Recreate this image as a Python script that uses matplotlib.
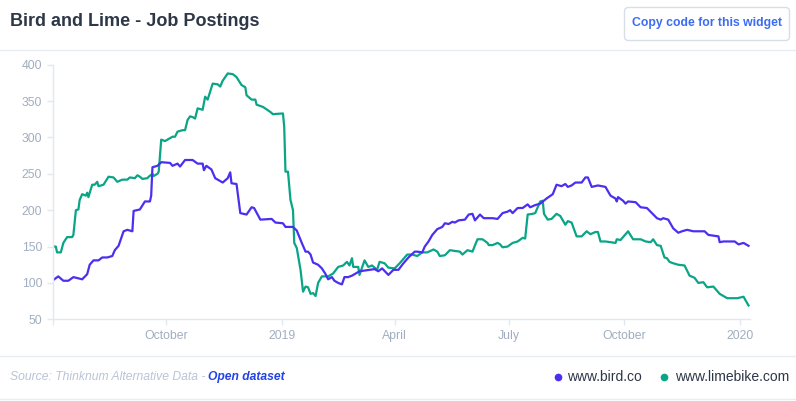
import pandas as pd
import numpy as np
import matplotlib
matplotlib.use('Agg')
import matplotlib.pyplot as plt
import matplotlib.dates as mdates
from matplotlib.patches import FancyBboxPatch
from matplotlib.lines import Line2D
from matplotlib.transforms import IdentityTransform

# job postings, x = days since 2018-07-03
start = pd.Timestamp('2018-07-03')

bird_day = [0, 4, 8, 12, 16, 23, 27, 29, 32, 36, 39, 43, 47, 49, 52, 56, 59, 63, 64, 69,
            73, 77, 78, 79, 83, 86, 93, 95, 99, 101, 105, 111, 115, 119, 120, 122, 126, 129, 135, 139,
            141, 142, 146, 149, 154, 158, 160, 165, 174, 177, 183, 185, 191, 194, 198, 201, 203, 205, 207, 211,
            214, 217, 219, 222, 224, 227, 230, 232, 235, 238, 240, 244, 248, 252, 256, 259, 262, 267, 271, 275,
            279, 283, 288, 290, 294, 296, 299, 302, 306, 310, 312, 315, 318, 320, 323, 328, 331, 334, 336, 340,
            343, 350, 354, 358, 362, 364, 366, 370, 374, 378, 380, 384, 388, 393, 398, 401, 405, 408, 410, 413,
            416, 421, 424, 426, 429, 434, 440, 444, 448, 449, 450, 454, 456, 458, 464, 468, 473, 477, 481, 484,
            486, 490, 494, 498, 501, 505, 510, 519, 522, 530, 531, 534, 543, 546, 550, 554]
bird_val = [104, 109, 103, 103, 108, 105, 112, 125, 131, 131, 135, 135, 137, 145, 151, 171, 173, 171, 199, 201,
            212, 212, 220, 259, 261, 266, 265, 261, 264, 260, 269, 269, 264, 264, 255, 261, 256, 244, 238, 244,
            252, 237, 236, 196, 194, 204, 203, 187, 188, 183, 182, 177, 177, 172, 155, 143, 143, 139, 128, 125,
            120, 112, 105, 108, 103, 100, 98, 108, 108, 110, 112, 116, 117, 118, 119, 116, 120, 111, 118, 118,
            127, 135, 143, 143, 142, 150, 157, 166, 174, 177, 182, 181, 184, 183, 186, 187, 194, 195, 186, 194,
            189, 189, 188, 196, 198, 200, 196, 203, 203, 208, 204, 207, 209, 216, 222, 235, 233, 236, 232, 234,
            238, 238, 245, 245, 232, 234, 232, 220, 216, 212, 218, 213, 209, 212, 211, 204, 203, 196, 189, 187,
            189, 187, 175, 169, 171, 173, 171, 171, 166, 164, 156, 157, 157, 153, 155, 151]

lime_day = [0, 2, 3, 6, 8, 11, 15, 16, 18, 20, 21, 23, 26, 27, 28, 31, 33, 35, 36, 40,
            44, 48, 51, 55, 59, 61, 65, 67, 69, 71, 75, 76, 79, 80, 83, 84, 86, 89, 95, 97,
            99, 103, 105, 107, 109, 111, 113, 115, 119, 121, 123, 127, 131, 133, 135, 139, 143, 146, 150, 153,
            154, 158, 161, 162, 167, 173, 175, 183, 184, 185, 187, 189, 191, 192, 194, 197, 199, 201, 203, 205,
            207, 209, 211, 214, 219, 223, 227, 231, 234, 236, 238, 239, 243, 244, 248, 251, 254, 258, 260, 264,
            267, 272, 276, 282, 286, 290, 294, 298, 303, 306, 308, 312, 316, 320, 324, 326, 330, 334, 338, 342,
            346, 347, 350, 354, 356, 358, 362, 366, 370, 374, 376, 378, 382, 384, 388, 390, 391, 394, 397, 401,
            404, 408, 410, 413, 417, 421, 425, 428, 432, 434, 436, 440, 444, 448, 449, 452, 458, 462, 468, 472,
            476, 478, 481, 484, 487, 489, 491, 494, 498, 503, 507, 511, 514, 518, 521, 526, 528, 531, 537, 545,
            550, 554]
lime_val = [150, 150, 142, 142, 155, 163, 163, 166, 200, 201, 214, 222, 220, 224, 218, 235, 235, 239, 233, 235,
            246, 245, 239, 242, 242, 245, 244, 248, 246, 243, 244, 246, 250, 247, 250, 253, 297, 295, 301, 301,
            308, 310, 310, 324, 329, 328, 326, 340, 338, 356, 352, 374, 373, 370, 378, 388, 387, 383, 372, 369,
            358, 352, 352, 345, 342, 335, 332, 333, 315, 253, 253, 214, 200, 155, 148, 118, 88, 95, 94, 85,
            86, 82, 100, 109, 109, 113, 122, 124, 129, 124, 134, 122, 122, 111, 131, 122, 124, 118, 129, 127,
            121, 120, 127, 139, 139, 137, 142, 142, 146, 143, 137, 138, 145, 144, 143, 139, 145, 143, 160, 160,
            155, 152, 152, 155, 153, 149, 150, 155, 157, 162, 161, 194, 195, 196, 212, 213, 195, 187, 188, 195,
            192, 180, 185, 183, 164, 164, 171, 167, 170, 170, 157, 157, 156, 155, 160, 159, 171, 160, 160, 157,
            156, 160, 152, 151, 135, 134, 129, 127, 125, 124, 110, 107, 100, 101, 94, 95, 91, 85, 79, 79,
            81, 69]

tick_dates = ['2018-07-03', '2018-10-01', '2019-01-01', '2019-04-01', '2019-07-01', '2019-10-01', '2020-01-01']
tick_labels = ['', 'October', '2019', 'April', 'July', 'October', '2020']
yticks = [50, 100, 150, 200, 250, 300, 350, 400]

bird_color = '#4b2ff0'
lime_color = '#0aa586'
grey_txt = '#a0aec0'
line_col = '#e2e8f0'

W, H = 796, 401
fig = plt.figure(figsize=(W / 100, H / 100), dpi=100)
plt.rcParams['font.family'] = ['Liberation Sans', 'DejaVu Sans']


def fy(py):
    return 1 - py / H


ax = fig.add_axes([53.3 / W, fy(319.3), (749.8 - 53.3) / W, (319.3 - 64.7) / H])

bird_x = start + pd.to_timedelta(bird_day, unit='D')
lime_x = start + pd.to_timedelta(lime_day, unit='D')
ax.plot(lime_x, lime_val, color=lime_color, lw=1.6, solid_joinstyle='round')
ax.plot(bird_x, bird_val, color=bird_color, lw=1.6, solid_joinstyle='round')

ax.set_xlim(start, start + pd.Timedelta(days=555))
ax.set_ylim(50, 400)
ax.set_xticks(pd.to_datetime(tick_dates))
ax.set_xticklabels(tick_labels)
ax.set_yticks(yticks)
ax.tick_params(colors=line_col, labelcolor=grey_txt, labelsize=8.8, length=4, width=1, pad=4)
for s in ['top', 'right']:
    ax.spines[s].set_visible(False)
for s in ['left', 'bottom']:
    ax.spines[s].set_color(line_col)
    ax.spines[s].set_linewidth(1)
ax.patch.set_alpha(0)

# header
fig.text(10 / W, fy(22), 'Bird and Lime - Job Postings', fontsize=13, fontweight='bold',
         color='#2d3748', va='center', ha='left')
btn = FancyBboxPatch((624.5, H - 40.5), 165, 33, boxstyle='round,pad=0,rounding_size=4',
                     transform=IdentityTransform(), facecolor='white', edgecolor='#d6deea', lw=1)
fig.patches.append(btn)
fig.text(707 / W, fy(23), 'Copy code for this widget', fontsize=8.8, fontweight='bold',
         color='#3b6cf2', ha='center', va='center')

for py in [49.5, 355.5, 398.5]:
    fig.add_artist(Line2D([0, 1], [fy(py), fy(py)], color='#e8edf3', lw=1))

# footer
fig.text(10 / W, fy(377), 'Source: Thinknum Alternative Data - ', fontsize=8.7, style='italic',
         color='#b9c4d6', ha='left', va='center')
fig.text(208 / W, fy(377), 'Open dataset', fontsize=8.7, style='italic', fontweight='bold',
         color='#2443e6', ha='left', va='center')

fig.add_artist(Line2D([558 / W], [fy(377)], marker='o', ms=4.5, color=bird_color, lw=0))
fig.text(567 / W, fy(377), 'www.bird.co', fontsize=10, color='#2d3748', ha='left', va='center')
fig.add_artist(Line2D([664 / W], [fy(377)], marker='o', ms=4.5, color=lime_color, lw=0))
fig.text(675 / W, fy(377), 'www.limebike.com', fontsize=10, color='#2d3748', ha='left', va='center')

fig.savefig('out.png', dpi=100)
